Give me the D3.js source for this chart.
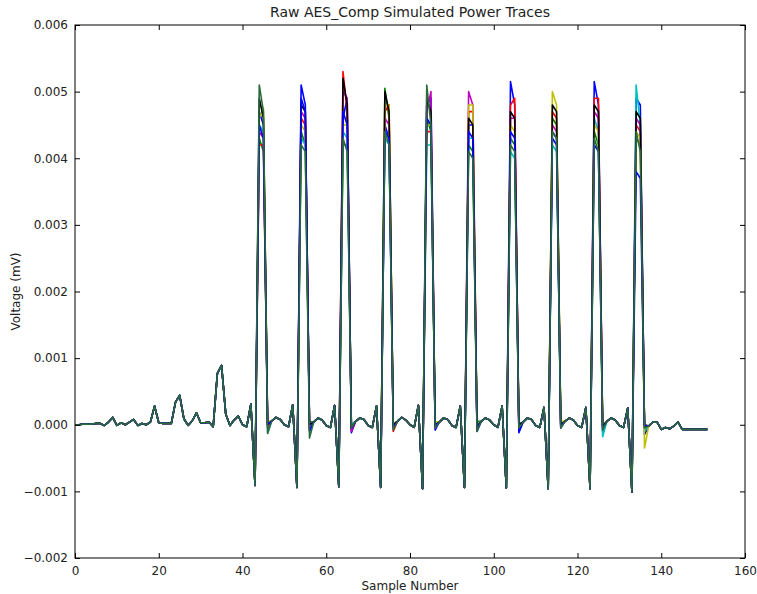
<!DOCTYPE html>
<html>
<head>
<meta charset="utf-8">
<script src="https://cdn.jsdelivr.net/npm/d3@7"></script>
<style>
    body { margin: 0; background: #fff; }
    text { font-family: "DejaVu Sans", sans-serif; fill: #222; }
</style>
</head>
<body>
<div id="chart"></div>
<script>
// shared part of every trace, sample 0..151 (null = differs per trace)
const common = [
    0, 0, 0.00001, 0.00001, 0.00001, 0.00002, 0.00002, -0.00001, 0.00004, 0.00011,
    -0.00001, 0.00003, 0, 0.00004, 0.00008, -0.00001, 0.00002, 0, 0.00004, 0.00028,
    0.00003, 0.00002, 0.00002, 0.00002, 0.00034, 0.00044, 0.00009, -0.00001, 0.00006, 0.00018,
    0.00003, 0.00003, 0.00004, -0.00003, 0.00077, 0.00089, 0.00016, -0.00001, 0.00007, 0.00013,
    0, -0.00003, 0.00031, -0.00091, null, null, null, 0.00006, 0.00011, 0.00008,
    0, -0.00003, 0.00030, -0.00094, null, null, null, 0.00004, 0.00010, 0.00007,
    -0.00001, -0.00004, 0.00029, -0.00093, null, null, null, 0.00005, 0.00010, 0.00008,
    -0.00001, -0.00004, 0.00028, -0.00094, null, null, null, 0.00005, 0.00011, 0.00007,
    0, -0.00004, 0.00029, -0.00096, null, null, null, 0.00004, 0.00010, 0.00008,
    -0.00001, -0.00004, 0.00028, -0.00094, null, null, null, 0.00005, 0.00010, 0.00007,
    0, -0.00004, 0.00028, -0.00095, null, null, null, 0.00004, 0.00010, 0.00008,
    -0.00001, -0.00004, 0.00026, -0.00096, null, null, null, 0.00005, 0.00010, 0.00007,
    -0.00001, -0.00004, 0.00026, -0.00096, null, null, null, 0.00005, 0.00010, 0.00007,
    -0.00001, -0.00004, 0.00025, -0.00101, null, null, null, -0.00002, 0.00004, 0.00004,
    -0.00007, -0.00004, -0.00006, -0.00002, 0.00004, -0.00007, -0.00007, -0.00007, -0.00007, -0.00007,
    -0.00007, -0.00007
];

// first sample of each of the ten spikes
const spikeSamples = [44, 54, 64, 74, 84, 94, 104, 114, 124, 134];

// trace colours, in drawing order (last one ends on top)
const traceColors = ["#0000ff", "#008000", "#ff0000", "#00bfbf", "#bf00bf", "#bfbf00", "#000000", "#0000ff", "#2a6a3c"];

// spike first sample, per trace
const peakFirst = [
    [0.0047, 0.0051, 0.0046, 0.0045, 0.0048, 0.0045, 0.00515, 0.0044, 0.00515, 0.0049],
    [0.0043, 0.0044, 0.0042, 0.00505, 0.0046, 0.0042, 0.0043, 0.0046, 0.0044, 0.0043],
    [0.0042, 0.0046, 0.0053, 0.0047, 0.0044, 0.0047, 0.0048, 0.0047, 0.0049, 0.0045],
    [0.0045, 0.0043, 0.0044, 0.0043, 0.0042, 0.0043, 0.0041, 0.0042, 0.0046, 0.0051],
    [0.0044, 0.0047, 0.0050, 0.0046, 0.0047, 0.0050, 0.0046, 0.0045, 0.0047, 0.0046],
    [0.0046, 0.0045, 0.0045, 0.0048, 0.0045, 0.0048, 0.0045, 0.0050, 0.0045, 0.0044],
    [0.0049, 0.0048, 0.0052, 0.0050, 0.0049, 0.0046, 0.0047, 0.0048, 0.0048, 0.0047],
    [0.0045, 0.0049, 0.0047, 0.0044, 0.0046, 0.0044, 0.0044, 0.0043, 0.0042, 0.0038],
    [0.0051, 0.0042, 0.0043, 0.0044, 0.0051, 0.0041, 0.0042, 0.0044, 0.0043, 0.0044]
];

// spike second sample, per trace
const peakSecond = [
    [0.0045, 0.0048, 0.0049, 0.0043, 0.0049, 0.0045, 0.0048, 0.0043, 0.0048, 0.0048],
    [0.0041, 0.0042, 0.0042, 0.0046, 0.0044, 0.0041, 0.0042, 0.0045, 0.0042, 0.0042],
    [0.0042, 0.0045, 0.0047, 0.0048, 0.0044, 0.0047, 0.0049, 0.0046, 0.0049, 0.0044],
    [0.0044, 0.0042, 0.0043, 0.0042, 0.0042, 0.0043, 0.0040, 0.0041, 0.0044, 0.0045],
    [0.0043, 0.0046, 0.0049, 0.0045, 0.0050, 0.0048, 0.0046, 0.0044, 0.0046, 0.0045],
    [0.00475, 0.0044, 0.0045, 0.0048, 0.0045, 0.0048, 0.0044, 0.0048, 0.0044, 0.0043],
    [0.0046, 0.0047, 0.0048, 0.0047, 0.0047, 0.0045, 0.0046, 0.0047, 0.0047, 0.0046],
    [0.0043, 0.0047, 0.0045, 0.0043, 0.0045, 0.0043, 0.0043, 0.0042, 0.0041, 0.0037],
    [0.0047, 0.0041, 0.0041, 0.0042, 0.0045, 0.0040, 0.0041, 0.0043, 0.0041, 0.0041]
];

// sample right after each spike, per trace
const afterSpike = [
    [-0.00005, -0.0001, -0.00012, -0.00005, -0.00008, -0.0001, -0.00012, -0.00005, -0.0001, -0.00015],
    [0, 0.00005, 0, 0.00002, 0, 0.00005, 0, 0.00003, 0, 0],
    [-0.00005, -0.00002, -0.00008, -0.0001, 0, -0.00002, -0.00005, -0.00003, 0, -0.00005],
    [-0.00012, 0, 0, 0, -0.00003, 0, 0.00002, 0, -0.00018, -0.0001],
    [0.00003, -0.00005, -0.0001, 0, -0.00005, -0.00008, 0, 0, -0.00005, 0],
    [0.00005, -0.00003, -0.00003, 0.00002, 0.00005, 0, -0.00003, 0.00005, 0, -0.00035],
    [0, 0, -0.00005, 0, 0, -0.00002, 0, 0, -0.00002, -0.00003],
    [0, -0.00008, -0.00005, -0.00003, -0.00002, -0.00005, -0.0001, -0.00002, -0.00005, -0.00002],
    [-0.00013, -0.0002, -0.00005, -0.00008, -0.00005, -0.0001, -0.00005, -0.00005, -0.00008, -0.00005]
];

const xTicks = [0, 20, 40, 60, 80, 100, 120, 140, 160];
const yTicks = [-0.002, -0.001, 0, 0.001, 0.002, 0.003, 0.004, 0.005, 0.006];

const width = 757;
const height = 594;
const marginTop = 25;
const marginRight = 12;
const marginBottom = 36;
const marginLeft = 75;
const plotW = width - marginLeft - marginRight;
const plotH = height - marginTop - marginBottom;

// build the traces from the shared part and the per-trace values
const traces = traceColors.map((color, t) => {
    const values = common.slice();
    spikeSamples.forEach((s, k) => {
        values[s] = peakFirst[t][k];
        values[s + 1] = peakSecond[t][k];
        values[s + 2] = afterSpike[t][k];
    });
    return { color: color, values: values.map((v, i) => ({ sample: i, v: v })) };
});

const svg = d3.select("#chart")
    .append("svg")
        .attr("width", width)
        .attr("height", height)
    .append("g")
        .attr("transform", `translate(${marginLeft},${marginTop})`);

const x = d3.scaleLinear()
    .domain([0, 160])
    .range([0, plotW]);

const y = d3.scaleLinear()
    .domain([-0.002, 0.006])
    .range([plotH, 0]);

const line = d3.line()
    .x(d => x(d.sample))
    .y(d => y(d.v));

svg.selectAll(".trace")
    .data(traces)
    .join("path")
        .attr("class", "trace")
        .attr("fill", "none")
        .attr("stroke", d => d.color)
        .attr("stroke-width", 1.6)
        .attr("stroke-linejoin", "round")
        .attr("d", d => line(d.values));

// axes, matplotlib style: ticks point inward on all four sides
const fmtY = d3.format(".3f");

const bottomAxis = svg.append("g")
    .attr("transform", `translate(0,${plotH})`)
    .call(d3.axisBottom(x).tickValues(xTicks).tickSize(-5).tickPadding(8).tickFormat(d3.format("d")));
const topAxis = svg.append("g")
    .call(d3.axisTop(x).tickValues(xTicks).tickSize(-5).tickFormat(""));
const leftAxis = svg.append("g")
    .call(d3.axisLeft(y).tickValues(yTicks).tickSize(-5).tickPadding(7).tickFormat(fmtY));
const rightAxis = svg.append("g")
    .attr("transform", `translate(${plotW},0)`)
    .call(d3.axisRight(y).tickValues(yTicks).tickSize(-5).tickFormat(""));

[bottomAxis, topAxis, leftAxis, rightAxis].forEach(a => {
    a.select(".domain").remove();
    a.selectAll("line").attr("stroke", "#000");
    a.selectAll("text").attr("font-size", 12).style("font-family", "DejaVu Sans, sans-serif").attr("fill", "#222");
});

svg.append("rect")
    .attr("width", plotW)
    .attr("height", plotH)
    .attr("fill", "none")
    .attr("stroke", "#000")
    .attr("stroke-width", 1);

svg.append("text")
    .attr("x", plotW / 2)
    .attr("y", -8)
    .attr("text-anchor", "middle")
    .attr("font-size", 14)
    .text("Raw AES_Comp Simulated Power Traces");

svg.append("text")
    .attr("x", plotW / 2)
    .attr("y", plotH + 32)
    .attr("text-anchor", "middle")
    .attr("font-size", 12)
    .text("Sample Number");

svg.append("text")
    .attr("transform", `translate(${-55},${plotH / 2}) rotate(-90)`)
    .attr("text-anchor", "middle")
    .attr("font-size", 12)
    .text("Voltage (mV)");
</script>
</body>
</html>
